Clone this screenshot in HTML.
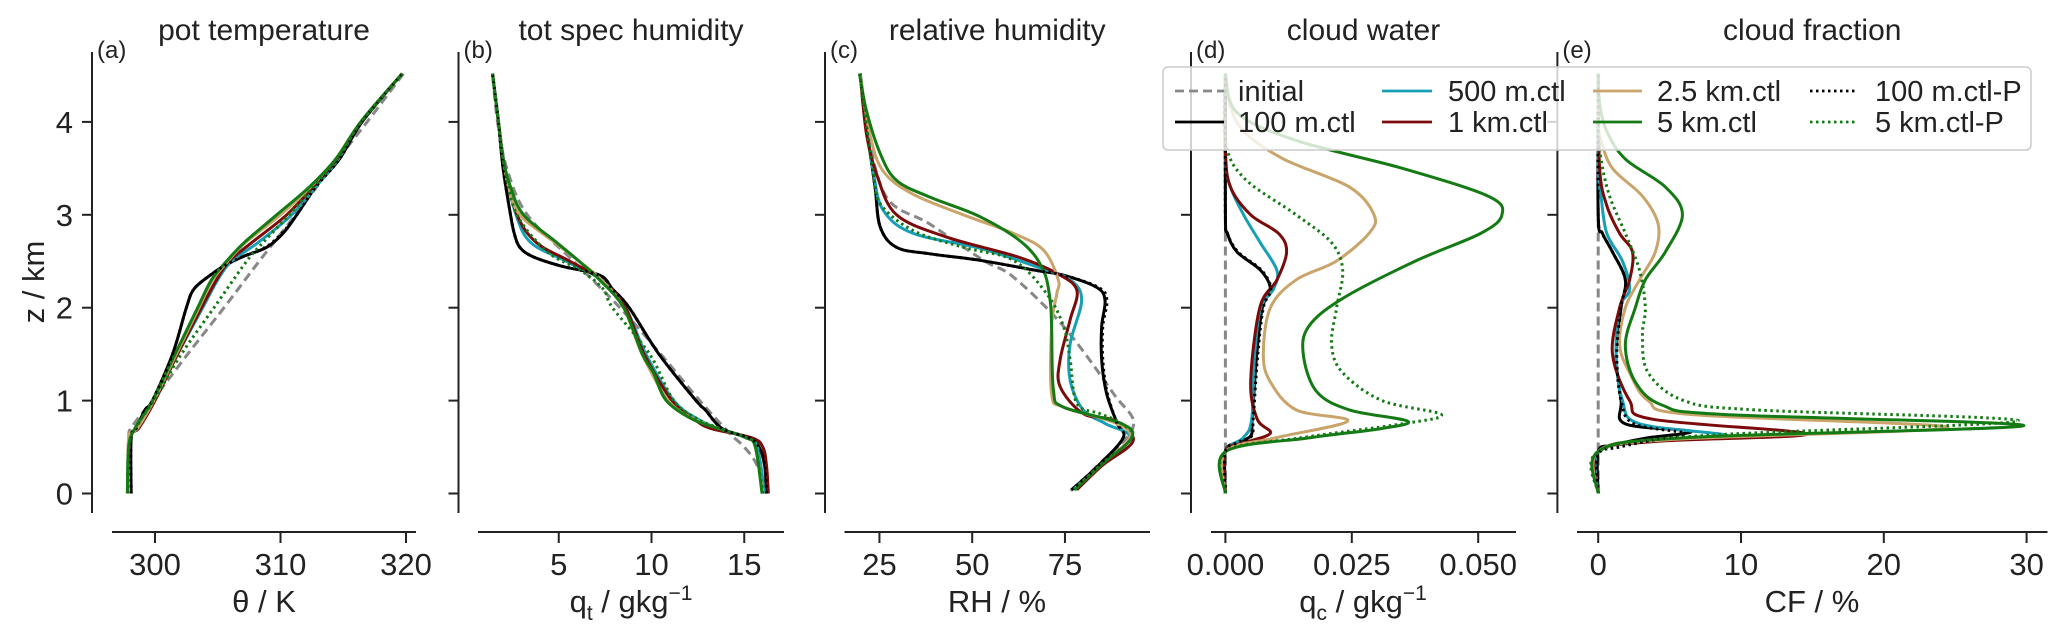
<!DOCTYPE html>
<html><head><meta charset="utf-8">
<style>
html,body{margin:0;padding:0;background:#fff;}
svg{display:block;font-family:"Liberation Sans",Arial,sans-serif;}
</style></head>
<body>
<svg id="chart" width="2067" height="641" viewBox="0 0 2067 641" xmlns="http://www.w3.org/2000/svg">
<g id="axes"></g>
<g id="series"></g>
<g id="legend">
  <rect x="1163" y="67" width="868" height="83" rx="5" fill="#fff" fill-opacity="0.8" stroke="#cccccc" stroke-width="1.5"/>
  <line x1="1175" y1="91" x2="1224" y2="91" stroke="#888" stroke-width="2.8" stroke-dasharray="9 5"/>
  <text x="1238" y="101" font-size="29" fill="#222">initial</text>
  <line x1="1175" y1="122" x2="1224" y2="122" stroke="#000" stroke-width="2.8"/>
  <text x="1238" y="132" font-size="29" fill="#222">100 m.ctl</text>
  <line x1="1382" y1="91" x2="1432" y2="91" stroke="#17a0b5" stroke-width="2.8"/>
  <text x="1448" y="101" font-size="29" fill="#222">500 m.ctl</text>
  <line x1="1382" y1="122" x2="1432" y2="122" stroke="#7b0a0a" stroke-width="2.8"/>
  <text x="1448" y="132" font-size="29" fill="#222">1 km.ctl</text>
  <line x1="1593" y1="91" x2="1642" y2="91" stroke="#c9a46b" stroke-width="2.8"/>
  <text x="1657" y="101" font-size="29" fill="#222">2.5 km.ctl</text>
  <line x1="1593" y1="122" x2="1642" y2="122" stroke="#147a14" stroke-width="2.8"/>
  <text x="1657" y="132" font-size="29" fill="#222">5 km.ctl</text>
  <line x1="1810" y1="91" x2="1856" y2="91" stroke="#000" stroke-width="2.8" stroke-dasharray="2.5 3.5"/>
  <text x="1875" y="101" font-size="29" fill="#222">100 m.ctl-P</text>
  <line x1="1810" y1="122" x2="1856" y2="122" stroke="#147a14" stroke-width="2.8" stroke-dasharray="2.5 3.5"/>
  <text x="1875" y="132" font-size="29" fill="#222">5 km.ctl-P</text>
</g>
</svg>
<script>
// ---- data: [z (km), value] pairs ----
const theta_initial=[[0,297.9],[0.6,297.9],[0.7,298.1],[0.8,298.6],[1,299.8],[1.5,302.6],[2,305.5],[2.5,308.3],[3,311.2],[3.5,314],[4,316.9],[4.52,319.8]];
const theta_100m=[[0,298.1],[0.6,298.1],[0.7,298.5],[0.9,299.2],[1,299.8],[1.5,301.4],[2,302.5],[2.2,303.1],[2.35,304.4],[2.45,305.5],[2.55,307],[2.65,308.9],[2.8,310.2],[3,311.3],[3.3,312.8],[3.6,314.7],[4,316.5],[4.52,319.7]];
const theta_500m=[[0,297.9],[0.6,298],[0.7,298.5],[1,299.9],[1.5,301.8],[2,303.8],[2.3,305],[2.5,306.1],[2.7,308.2],[3,310.9],[3.3,312.8],[3.6,314.6],[4,316.4],[4.52,319.7]];
const theta_1km=[[0,297.9],[0.6,298],[0.7,298.7],[1,300],[1.5,301.8],[2,303.7],[2.3,304.9],[2.5,305.9],[2.7,307.7],[3,310.5],[3.3,312.6],[3.6,314.5],[4,316.4],[4.52,319.7]];
const theta_2500m=[[0,297.9],[0.6,297.9],[0.7,298.6],[1,299.9],[1.5,301.7],[2,303.5],[2.3,304.6],[2.5,305.8],[2.7,307.2],[3,310],[3.3,312.4],[3.6,314.4],[4,316.4],[4.52,319.7]];
const theta_5km=[[0,297.8],[0.5,297.9],[0.7,298.4],[1,299.8],[1.5,301.6],[2,303.4],[2.3,304.5],[2.5,305.7],[2.7,307.1],[3,309.7],[3.3,312.3],[3.6,314.4],[4,316.4],[4.52,319.7]];
const theta_100mP=[[0,298.1],[0.6,298.1],[0.7,298.5],[0.9,299.2],[1,299.8],[1.5,301.4],[2,302.5],[2.2,303.1],[2.35,304.4],[2.45,305.5],[2.55,307],[2.65,308.8],[2.8,310.1],[3,311.3],[3.3,312.8],[3.6,314.7],[4,316.5],[4.52,319.7]];
const theta_5kmP=[[0,297.8],[0.5,297.9],[0.7,298.4],[1,299.9],[1.5,302.1],[2,304.7],[2.5,307.3],[2.7,308.6],[3,310.7],[3.3,312.6],[3.6,314.5],[4,316.4],[4.52,319.7]];

const qt_initial=[[0,16.05],[0.3,15.7],[0.5,15],[0.65,14.2],[1,12.6],[1.5,10.5],[2,8.3],[2.5,5.8],[3,3.3],[3.5,2.2],[4,1.7],[4.52,1.43]];
const qt_100m=[[0,16.2],[0.3,16.1],[0.5,15.8],[0.6,15.25],[0.7,13.8],[0.9,12.9],[1,12.4],[1.5,10.4],[2,8.8],[2.2,7.9],[2.35,7.2],[2.45,5.1],[2.55,3.6],[2.65,2.9],[2.8,2.6],[3,2.4],[3.5,2.0],[4,1.75],[4.52,1.43]];
const qt_500m=[[0,16.1],[0.5,15.7],[0.6,15.1],[0.7,13.6],[0.8,12.5],[1,11.2],[1.5,9.7],[2,8.6],[2.3,7.3],[2.5,5.4],[2.7,3.5],[3,2.7],[3.5,2.1],[4,1.75],[4.52,1.43]];
const qt_1km=[[0,16.3],[0.3,16.2],[0.5,16.0],[0.6,15.4],[0.7,13.2],[0.8,12.3],[1,11.1],[1.5,9.6],[2,8.6],[2.3,7.3],[2.5,5.6],[2.7,3.8],[3,2.75],[3.5,2.1],[4,1.75],[4.52,1.43]];
const qt_2500m=[[0,16],[0.5,15.6],[0.6,15.1],[0.7,13.6],[0.8,12.3],[1,10.9],[1.5,9.5],[2,8.5],[2.3,7.3],[2.5,6.1],[2.7,4.8],[3,2.9],[3.3,2.3],[3.6,2.0],[4,1.75],[4.52,1.43]];
const qt_5km=[[0,15.96],[0.5,15.6],[0.6,15.1],[0.7,13.6],[0.8,12.2],[1,10.8],[1.3,10.1],[1.5,9.5],[2,8.5],[2.3,7.2],[2.5,6.1],[2.7,4.9],[3,3.1],[3.3,2.4],[3.6,2.0],[4,1.75],[4.52,1.43]];
const qt_100mP=[[0,16.2],[0.3,16.1],[0.5,15.8],[0.6,15.25],[0.7,13.8],[0.9,12.9],[1,12.4],[1.5,10.4],[2,8.8],[2.2,7.9],[2.35,7.2],[2.45,5.1],[2.55,3.6],[2.65,2.9],[2.8,2.6],[3,2.4],[3.5,2.0],[4,1.75],[4.52,1.43]];
const qt_5kmP=[[0,16],[0.5,15.6],[0.6,15.1],[0.7,13.7],[0.8,12.5],[1,11.2],[1.5,9.9],[2,7.9],[2.2,7.4],[2.4,6.2],[2.6,4.4],[3,2.75],[3.5,2.1],[4,1.75],[4.52,1.43]];

const rh_initial=[[0.03,76.5],[0.29,83.5],[0.72,93.4],[1.08,88],[1.8,74.6],[2.33,61.1],[2.51,53],[2.9,38.6],[3.19,26.9],[3.95,21.5],[4.52,19.8]];
const rh_100m=[[0.04,76.8],[0.3,84],[0.6,90.7],[0.76,89],[1.08,86.2],[1.44,84.9],[1.8,84.9],[2.08,85.8],[2.22,83.5],[2.35,74.6],[2.4,67.4],[2.51,52.1],[2.58,38.6],[2.65,29.6],[2.87,25.2],[3.3,23.8],[3.95,21.5],[4.52,19.8]];
const rh_500m=[[0.04,77.2],[0.3,84.5],[0.6,92.5],[0.75,86],[0.9,79.9],[1.22,76.4],[1.61,76.4],[2.08,79.5],[2.3,76.4],[2.44,67.4],[2.64,52.1],[2.8,34.1],[3.05,26],[3.47,23.3],[3.95,21.5],[4.52,19.8]];
const rh_1km=[[0.04,78.2],[0.3,85],[0.57,93.4],[0.79,88],[0.86,79.9],[1.15,73.7],[1.44,73.7],[1.87,76.4],[2.19,78.2],[2.37,72.8],[2.55,62],[2.76,43.1],[3.0,29.6],[3.43,24.3],[3.87,21.5],[4.52,19.8]];
const rh_2500m=[[0.04,77.5],[0.3,84.5],[0.6,92.5],[0.76,88.5],[0.93,74.6],[1.07,71.4],[1.8,71.4],[2.15,72.8],[2.3,73.2],[2.62,69.2],[2.8,61.1],[3.0,47.6],[3.22,34.1],[3.47,26],[3.87,22.4],[4.52,19.8]];
const rh_5km=[[0.04,77.7],[0.3,84.5],[0.6,93],[0.76,89.8],[0.93,74.6],[1.11,71.9],[1.8,71.4],[2.08,71],[2.4,69.2],[2.69,63.8],[2.98,52.1],[3.19,38.6],[3.37,29.6],[3.66,25.2],[4.12,21.5],[4.52,19.6]];
const rh_100mP=[[0.04,76.8],[0.3,84],[0.6,90.7],[0.76,89],[1.08,86.4],[1.44,85.2],[1.8,85.2],[2.08,86.3],[2.22,84],[2.35,74.6],[2.4,67.4],[2.51,52.1],[2.58,38.6],[2.65,29.6],[2.87,25.2],[3.3,23.8],[3.95,21.5],[4.52,19.8]];
const rh_5kmP=[[0.04,77.5],[0.3,84.5],[0.6,93],[0.76,90],[0.86,84.4],[0.97,78.2],[1.44,76.4],[1.8,74.6],[2.15,70.1],[2.51,61.1],[2.65,47.6],[2.83,34.1],[3.12,25.2],[3.47,23.3],[3.95,21.5],[4.52,19.8]];

const qc_initial=[[0,0],[4.52,0]];
const qc_100m=[[0,0],[0.45,0],[0.55,0.0023],[0.62,0.005],[0.8,0.0053],[1.5,0.0062],[2,0.0073],[2.2,0.0089],[2.4,0.007],[2.6,0.0023],[2.8,0.0004],[3,0],[4.52,0]];
const qc_500m=[[0,0],[0.45,0],[0.6,0.0035],[0.8,0.0052],[1.5,0.0058],[2,0.007],[2.2,0.0095],[2.4,0.0102],[2.7,0.0069],[3,0.0036],[3.3,0.001],[3.6,0],[4.52,0]];
const qc_1km=[[0,0],[0.45,0],[0.55,0.004],[0.65,0.0089],[0.8,0.0063],[1.2,0.005],[2,0.0068],[2.3,0.0102],[2.6,0.0121],[2.8,0.0105],[3,0.005],[3.3,0.001],[3.7,0],[4.52,0]];
const qc_2500m=[[0,0],[0.45,0],[0.6,0.01],[0.78,0.0242],[0.9,0.014],[1.2,0.0089],[1.5,0.0075],[2,0.0089],[2.3,0.014],[2.5,0.0219],[2.8,0.0284],[3,0.0294],[3.3,0.0245],[3.6,0.0115],[3.9,0.0036],[4.2,0.0008],[4.52,0]];
const qc_5km=[[0,0],[0.45,0],[0.6,0.0167],[0.7,0.031],[0.78,0.036],[0.9,0.0245],[1.1,0.018],[1.5,0.0154],[1.8,0.0165],[2.1,0.0232],[2.5,0.0375],[2.8,0.0505],[3,0.0547],[3.2,0.052],[3.5,0.035],[3.8,0.014],[4.1,0.0023],[4.52,0]];
const qc_100mP=[[0,0],[0.45,0],[0.55,0.0025],[0.62,0.0052],[0.8,0.0055],[1.5,0.0064],[2,0.0075],[2.2,0.009],[2.4,0.0072],[2.6,0.0025],[2.8,0.0004],[3,0],[4.52,0]];
const qc_5kmP=[[0,0],[0.45,0],[0.6,0.015],[0.75,0.035],[0.85,0.0427],[1.0,0.031],[1.3,0.0232],[1.6,0.021],[2,0.022],[2.4,0.0232],[2.7,0.021],[3,0.014],[3.4,0.0036],[3.8,0],[4.52,0]];

const cf_initial=[[0,0],[4.52,0]];
const cf_100m=[[0,0],[0.45,0],[0.52,1],[0.6,3.5],[0.67,6.5],[0.75,1.9],[1.0,1.6],[1.5,1.25],[2,1.6],[2.3,1.9],[2.6,1.0],[2.8,0.3],[3,0],[4.52,0]];
const cf_500m=[[0,0],[0.45,0],[0.55,3],[0.62,9.1],[0.75,2.9],[1.0,1.7],[1.5,1.25],[2,1.5],[2.2,2.2],[2.5,1.7],[2.8,0.6],[3.2,0.2],[3.5,0],[4.52,0]];
const cf_1km=[[0,0],[0.45,0],[0.56,4],[0.64,14.6],[0.8,3.8],[1.0,2.2],[1.5,1.0],[2,1.5],[2.3,2.2],[2.6,2.4],[2.8,1.5],[3.1,0.6],[3.5,0.1],[4.52,0]];
const cf_2500m=[[0,0],[0.45,0],[0.58,5],[0.71,24.5],[0.85,6.5],[1.0,3.5],[1.3,2.2],[1.6,1.5],[2.0,1.9],[2.3,2.9],[2.6,4.0],[2.9,4.2],[3.2,3.1],[3.5,1.0],[3.8,0.2],[4.0,0],[4.52,0]];
const cf_5km=[[0,0],[0.45,0],[0.6,6],[0.73,29.8],[0.85,8.8],[0.95,4.5],[1.2,2.6],[1.6,1.9],[2,2.6],[2.3,3.3],[2.6,4.7],[3.0,5.9],[3.3,4.7],[3.6,1.9],[3.9,0.6],[4.2,0.1],[4.52,0]];
const cf_100mP=[[0,0],[0.42,0],[0.5,1.5],[0.58,4],[0.65,6],[0.75,2.5],[1.0,1.6],[1.5,1.3],[2,1.6],[2.3,1.9],[2.6,1.0],[2.8,0.3],[3,0],[4.52,0]];
const cf_5kmP=[[0,0],[0.45,0],[0.62,7],[0.78,29.4],[0.9,11],[1.0,6],[1.3,3.5],[1.7,3.1],[2.0,3.3],[2.4,2.9],[2.8,1.9],[3.2,0.8],[3.6,0.2],[4.0,0],[4.52,0]];

const zTicks=[0,1,2,3,4];
const thetaTicks=[300,310,320];
const qtTicks=[5,10,15];
const rhTicks=[25,50,75];
const qcTicks=[0,0.025,0.05];
const qcTickLabels=["0.000","0.025","0.050"];
const cfTicks=[0,10,20,30];

// ---- layout ----
const NS="http://www.w3.org/2000/svg";
const Z0=493.5, ZS=92.9;
function yOf(z){return Z0-z*ZS;}
const panels=[
 {key:"theta",label:"(a)",title:"pot temperature",spine:92,ax0:112,ax1:416,x0:155,v0:300,s:12.55,ticks:thetaTicks,tl:thetaTicks.map(String),
  data:[theta_initial,theta_100m,theta_500m,theta_1km,theta_2500m,theta_5km,theta_100mP,theta_5kmP]},
 {key:"qt",label:"(b)",title:"tot spec humidity",spine:458.5,ax0:478,ax1:784,x0:466,v0:0,s:18.55,ticks:qtTicks,tl:qtTicks.map(String),
  data:[qt_initial,qt_100m,qt_500m,qt_1km,qt_2500m,qt_5km,qt_100mP,qt_5kmP]},
 {key:"rh",label:"(c)",title:"relative humidity",spine:825,ax0:844.5,ax1:1150,x0:786.7,v0:0,s:3.71,ticks:rhTicks,tl:rhTicks.map(String),
  data:[rh_initial,rh_100m,rh_500m,rh_1km,rh_2500m,rh_5km,rh_100mP,rh_5kmP]},
 {key:"qc",label:"(d)",title:"cloud water",spine:1191,ax0:1211,ax1:1516,x0:1225.4,v0:0,s:5056,ticks:qcTicks,tl:qcTickLabels,
  data:[qc_initial,qc_100m,qc_500m,qc_1km,qc_2500m,qc_5km,qc_100mP,qc_5kmP]},
 {key:"cf",label:"(e)",title:"cloud fraction",spine:1557.4,ax0:1577,ax1:2047.5,x0:1598.2,v0:0,s:14.28,ticks:cfTicks,tl:cfTicks.map(String),
  data:[cf_initial,cf_100m,cf_500m,cf_1km,cf_2500m,cf_5km,cf_100mP,cf_5kmP]}
];
const seriesNames=["initial","100m-ctl","500m-ctl","1km-ctl","2500m-ctl","5km-ctl","100m-ctl-p","5km-ctl-p"];
const seriesColors=["#888888","#000000","#17a0b5","#7b0a0a","#c9a46b","#147a14","#000000","#147a14"];
const seriesDash=["9 5",null,null,null,null,null,"2.5 3.5","2.5 3.5"];

const axesG=document.getElementById("axes");
const seriesG=document.getElementById("series");
function mk(tag,attrs,parent){const e=document.createElementNS(NS,tag);for(const k in attrs)e.setAttribute(k,attrs[k]);parent.appendChild(e);return e;}

function smoothPath(pts){
  if(pts.length<3){return "M"+pts.map(p=>p[0].toFixed(2)+","+p[1].toFixed(2)).join("L");}
  let d="M"+pts[0][0].toFixed(2)+","+pts[0][1].toFixed(2);
  for(let i=0;i<pts.length-1;i++){
    const p0=pts[Math.max(0,i-1)],p1=pts[i],p2=pts[i+1],p3=pts[Math.min(pts.length-1,i+2)];
    const c1x=p1[0]+(p2[0]-p0[0])/6,c1y=p1[1]+(p2[1]-p0[1])/6;
    const c2x=p2[0]-(p3[0]-p1[0])/6,c2y=p2[1]-(p3[1]-p1[1])/6;
    d+="C"+c1x.toFixed(2)+","+c1y.toFixed(2)+" "+c2x.toFixed(2)+","+c2y.toFixed(2)+" "+p2[0].toFixed(2)+","+p2[1].toFixed(2);
  }
  return d;
}

panels.forEach((p,pi)=>{
  const xOf=v=>p.x0+(v-p.v0)*p.s;
  const g=mk("g",{},axesG);
  
  
  const sp=mk("line",{x1:p.spine,y1:52,x2:p.spine,y2:513,stroke:"#222","stroke-width":2},g);
  
  
  zTicks.forEach(z=>{
    const t=mk("line",{x1:p.spine-10,y1:yOf(z),x2:p.spine,y2:yOf(z),stroke:"#222","stroke-width":2},g);
    
    
    if(pi===0){
      const tl=mk("text",{x:73,y:yOf(z)+11,"text-anchor":"end","font-size":31,fill:"#222"},g);
      
      
      tl.textContent=String(z);
    }
  });
  const xa=mk("line",{x1:p.ax0,y1:532,x2:p.ax1,y2:532,stroke:"#222","stroke-width":2},g);
  
  
  p.ticks.forEach((v,i)=>{
    const x=xOf(v);
    const t=mk("line",{x1:x,y1:532,x2:x,y2:543,stroke:"#222","stroke-width":2},g);
    
    
    const tl=mk("text",{x:x,y:575,"text-anchor":"middle","font-size":31,fill:"#222"},g);
    
    
    tl.textContent=p.tl[i];
  });
  const title=mk("text",{x:(p.ax0+p.ax1)/2,y:40,"text-anchor":"middle","font-size":30,fill:"#222"},g);
  
  
  title.textContent=p.title;
  const lab=mk("text",{x:p.spine+5,y:58,"font-size":24,fill:"#222"},g);
  
  
  lab.textContent=p.label;

  const sg=mk("g",{},seriesG);
  
  
  p.data.forEach((arr,si)=>{
    const pts=arr.map(d=>[xOf(d[1]),yOf(d[0])]);
    const path=mk("path",{d:smoothPath(pts),fill:"none",stroke:seriesColors[si],"stroke-width":3,"stroke-linejoin":"round"},sg);
    if(seriesDash[si])path.setAttribute("stroke-dasharray",seriesDash[si]);
    
    
  });
});

// axis labels
function axisLabel(x,parts,name){
  const t=mk("text",{x:x,y:612,"text-anchor":"middle","font-size":31,fill:"#222"},axesG);
  
  
  parts.forEach(pt=>{
    const s=mk("tspan",{},t);
    if(pt[1]==="sub"){s.setAttribute("font-size","21");s.setAttribute("dy","8");}
    if(pt[1]==="back"){s.setAttribute("dy","-8");}
    if(pt[1]==="sup"){s.setAttribute("font-size","21");s.setAttribute("dy","-12");}
    s.textContent=pt[0];
  });
}
axisLabel(264,[["θ / K",""]],"theta-x-axis-title");
axisLabel(631,[["q",""],["t","sub"],[" / gkg","back"],["−1","sup"]],"qt-x-axis-title");
axisLabel(997,[["RH / %",""]],"rh-x-axis-title");
axisLabel(1363,[["q",""],["c","sub"],[" / gkg","back"],["−1","sup"]],"qc-x-axis-title");
axisLabel(1812,[["CF / %",""]],"cf-x-axis-title");
const yl=mk("text",{x:0,y:0,"text-anchor":"middle","font-size":31,fill:"#222",transform:"translate(44,282) rotate(-90)"},axesG);


yl.textContent="z / km";
// legend on top
document.getElementById("chart").appendChild(document.getElementById("legend"));
</script>
</body></html>
